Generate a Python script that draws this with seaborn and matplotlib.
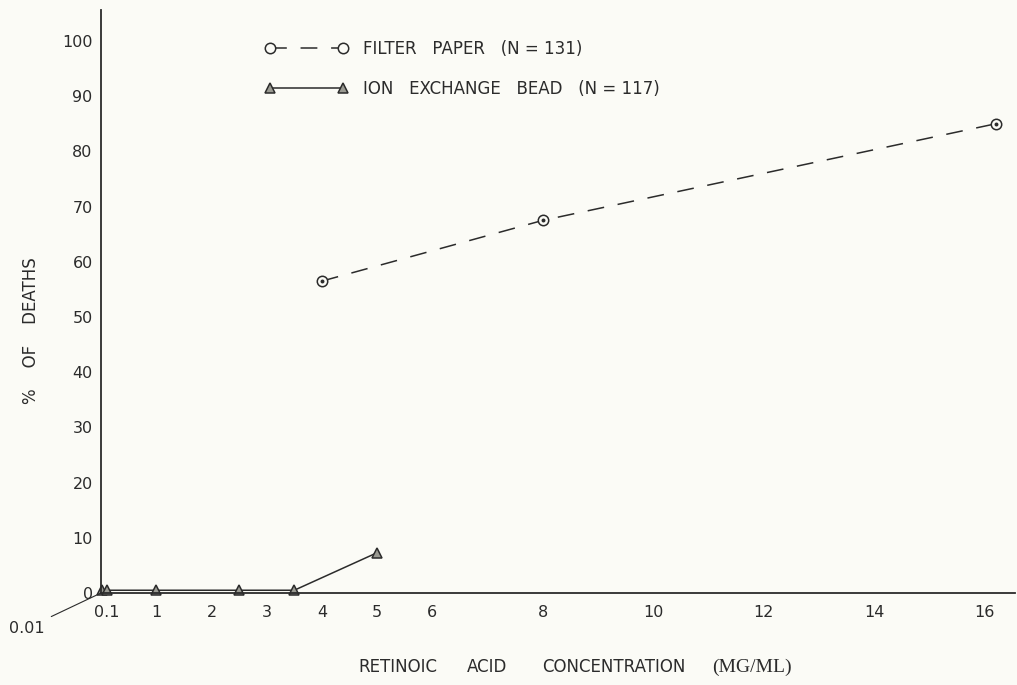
import seaborn as sns
import matplotlib.pyplot as plt
import pandas as pd

# values
filter_conc = [4, 8, 16.2]
filter_pct = [56.5, 67.5, 85.0]
bead_conc = [0.01, 0.1, 1, 2.5, 3.5, 5]
bead_pct = [0.5, 0.5, 0.5, 0.5, 0.5, 7.3]

x_ticks = [0.1, 1, 2, 3, 4, 5, 6, 8, 10, 12, 14, 16]
x_ticklabels = ["0.1", "1", "2", "3", "4", "5", "6", "8", "10", "12", "14", "16"]
x_minor = [7, 9, 11, 13, 15]
y_ticks = list(range(0, 101, 10))

sns.set_style("white")
plt.rcParams['font.family'] = ['DejaVu Sans']
ink = "#2b2b2b"
bg = "#fbfbf6"

filter_df = pd.DataFrame({"conc": filter_conc, "pct": filter_pct})
bead_df = pd.DataFrame({"conc": bead_conc, "pct": bead_pct})

fig = plt.figure(figsize=(10.17, 6.85), dpi=100, facecolor=bg)
ax = fig.add_axes([0.0993, 0.1343, 0.8987, 0.851])
ax.set_facecolor(bg)

sns.lineplot(data=filter_df, x="conc", y="pct", ax=ax, sort=False, color=ink,
             lw=1.1, marker="o", markersize=7.5, markerfacecolor=bg,
             markeredgecolor=ink, markeredgewidth=1.1, clip_on=False,
             label="FILTER   PAPER   (N = 131)")
ax.lines[-1].set_dashes((11, 9))
sns.scatterplot(data=filter_df, x="conc", y="pct", ax=ax, color=ink, s=8,
                linewidth=0, zorder=5, clip_on=False, legend=False)
sns.lineplot(data=bead_df, x="conc", y="pct", ax=ax, sort=False, color=ink,
             lw=1.1, marker="^", markersize=7.5, markerfacecolor="#9a9a92",
             markeredgecolor=ink, markeredgewidth=1.1, clip_on=False,
             label="ION   EXCHANGE   BEAD   (N = 117)")

ax.set_xlim(0, 16.55)
ax.set_ylim(0, 105.6)
ax.set_xticks(x_ticks)
ax.set_xticklabels(x_ticklabels)
ax.set_xticks(x_minor, minor=True)
ax.set_yticks(y_ticks)
ax.tick_params(axis="both", which="both", colors=ink, labelsize=11.5, width=0.8)
ax.tick_params(axis="x", which="both", direction="inout", length=5, pad=6)
ax.tick_params(axis="y", direction="out", length=4, pad=2)
for side in ["top", "right"]:
    ax.spines[side].set_visible(False)
for side in ["left", "bottom"]:
    ax.spines[side].set_color(ink)
    ax.spines[side].set_linewidth(1.3)

ax.set_xlabel("")
ax.set_ylabel("%    OF    DEATHS", fontsize=12, color=ink)
ax.yaxis.set_label_coords(-0.067, 0.45)

# x axis title, words spread like the original typesetting
label_y = 1 - 667 / 685
for word, left in [("RETINOIC", 358), ("ACID", 467), ("CONCENTRATION", 542)]:
    fig.text(left / 1017, label_y, word, fontsize=12, color=ink,
             ha="left", va="center")
fig.text(712 / 1017, label_y, "(MG/ML)", fontsize=14, color=ink,
         family="Liberation Serif", ha="left", va="center")

ax.annotate("0.01", xy=(0, 0), xytext=(-1.35, -6.4), annotation_clip=False,
            fontsize=11.5, color=ink, ha="center", va="center",
            arrowprops=dict(arrowstyle="-", color=ink, lw=0.8, shrinkA=3, shrinkB=0))

leg = ax.legend(loc="upper left", bbox_to_anchor=(250 / 1017, 1 - 25 / 685),
                bbox_transform=fig.transFigure, frameon=False, numpoints=2,
                handlelength=5.0, handletextpad=0.9, labelspacing=1.3,
                fontsize=12)
for t in leg.get_texts():
    t.set_color(ink)

fig.savefig("out.png", dpi=100, facecolor=bg)
